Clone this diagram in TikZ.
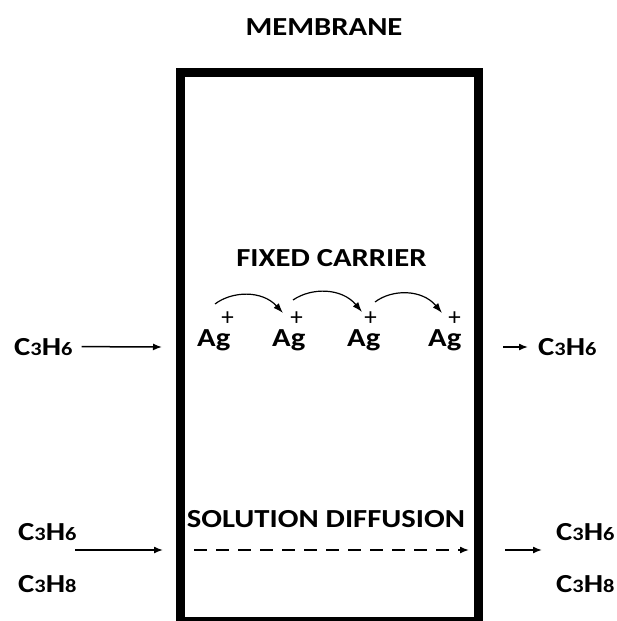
\documentclass[tikz,border=0pt]{standalone}
\usepackage{fontspec}
\setmainfont{Carlito}
\newfontfamily\lblfont{Carlito}[FakeStretch=1.18]
\newfontfamily\plusfont{Carlito}
\usetikzlibrary{arrows.meta}
\newcommand\smalldigit[1]{{\fontsize{19pt}{19pt}\selectfont #1}}
% Ag with a superscript plus placed over the g; #1 = kern before the plus
\newcommand\agplus[1]{Ag\kern#1\raisebox{21pt}{\plusfont\mdseries\fontsize{25pt}{25pt}\selectfont +}}
\begin{document}
\begin{tikzpicture}[x=1pt,y=-1pt,
  lbl/.style={inner sep=0pt, font={\lblfont\bfseries\fontsize{26pt}{26pt}\selectfont}},
  arr/.style={line width=1.5pt, -{Latex[length=9pt,width=7pt]}},
  hop/.style={line width=1.2pt, -{Latex[length=10pt,width=7pt]}},
  diff/.style={arr, dash pattern=on 13pt off 9pt}]
\useasboundingbox (0,0) rectangle (616,621);
% membrane box
\node[draw, line width=9pt, minimum width=298.5pt, minimum height=549pt, inner sep=0pt] (membrane) at (329.25,346.5) {};
% titles
\node[lbl, anchor=base] (title) at (324,35) {MEMBRANE};
\node[lbl, anchor=base] (fixed) at (331.5,266) {FIXED CARRIER};
\node[lbl, anchor=base] (soldiff) at (326,527) {SOLUTION DIFFUSION};
% Ag carriers
\node[lbl, anchor=base west] (ag1) at (197,346) {\agplus{-9pt}};
\node[lbl, anchor=base west] (ag2) at (272,346) {\agplus{-15pt}};
\node[lbl, anchor=base west] (ag3) at (347,346) {\agplus{-16pt}};
\node[lbl, anchor=base west] (ag4) at (428,346) {\agplus{-13pt}};
% hops
\coordinate (h1s) at (215,304); \coordinate (h1e) at (283,313);
\coordinate (h2s) at (293,300); \coordinate (h2e) at (362,312);
\coordinate (h3s) at (375,302); \coordinate (h3e) at (442,313);
\draw[hop] (h1s) .. controls (232,291) and (262,290) .. (h1e);
\draw[hop] (h2s) .. controls (312,287) and (342,288) .. (h2e);
\draw[hop] (h3s) .. controls (392,289) and (422,289) .. (h3e);
% top feed / permeate
\node[lbl, anchor=base west] (inA) at (14,355) {C\smalldigit{3}H\smalldigit{6}};
\node[lbl, anchor=base west] (outA) at (538,355) {C\smalldigit{3}H\smalldigit{6}};
\coordinate (inAend) at (162,347);
\coordinate (outAstart) at (503,347);
\draw[arr, shorten <=9pt] (inA.east) -- (inAend);
\draw[arr, shorten >=10pt] (outAstart) -- (outA.west |- outAstart);
% bottom feed / permeate
\node[lbl, anchor=base west] (inB1) at (18,540) {C\smalldigit{3}H\smalldigit{6}};
\node[lbl, anchor=base west] (inB2) at (18,592) {C\smalldigit{3}H\smalldigit{8}};
\node[lbl, anchor=base west] (outB1) at (556,540) {C\smalldigit{3}H\smalldigit{6}};
\node[lbl, anchor=base west] (outB2) at (556,592) {C\smalldigit{3}H\smalldigit{8}};
\coordinate (inBs) at (75,550); \coordinate (inBe) at (163,550);
\coordinate (dfs) at (194,550); \coordinate (dfe) at (469,550);
\coordinate (outBs) at (505,550); \coordinate (outBe) at (542,550);
\draw[arr] (inBs) -- (inBe);
\draw[diff] (dfs) -- (dfe);
\draw[arr] (outBs) -- (outBe);
\end{tikzpicture}
\end{document}
